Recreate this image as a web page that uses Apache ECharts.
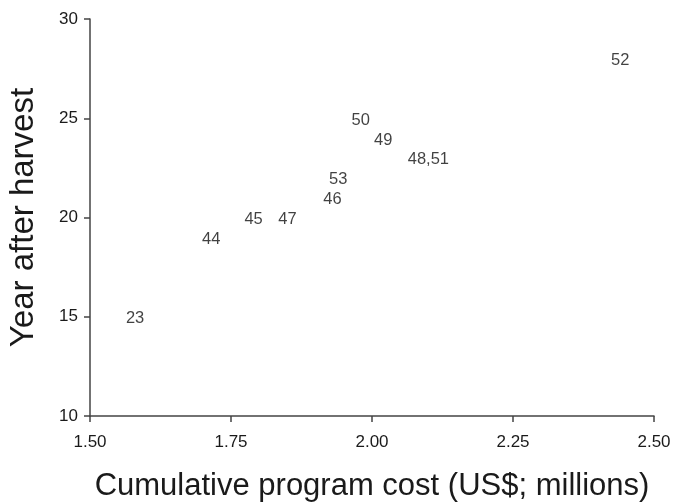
<!DOCTYPE html>
<html>
<head>
<meta charset="utf-8">
<script src="https://cdn.jsdelivr.net/npm/echarts@6/dist/echarts.min.js"></script>
<style>
  html, body { margin: 0; padding: 0; background: #fff; }
  #chart { width: 674px; height: 502px; }
</style>
</head>
<body>
<div id="chart"></div>
<script>
// Program identifiers shown as point labels
const pointLabels = ['23', '44', '45', '47', '46', '53', '50', '49', '48,51', '52'];
// Cumulative program cost (US$ millions)
const costMillions = [1.58, 1.715, 1.79, 1.85, 1.93, 1.94, 1.98, 2.02, 2.10, 2.44];
// Year after harvest
const yearAfterHarvest = [15, 19, 20, 20, 21, 22, 25, 24, 23, 28];

const xTicks = ['1.50', '1.75', '2.00', '2.25', '2.50'];

const chart = echarts.init(document.getElementById('chart'));
const points = costMillions.map((c, i) => [c, yearAfterHarvest[i], pointLabels[i]]);

const axisColor = '#444';
const textColor = '#1a1a1a';
const fontFamily = '"Liberation Sans", Arial, sans-serif';

chart.setOption({
  animation: false,
  grid: { left: 90, right: 20, top: 19, bottom: 86, containLabel: false, outerBoundsMode: 'none' },
  xAxis: {
    type: 'value',
    min: 1.5, max: 2.5, interval: 0.25,
    name: 'Cumulative program cost (US$; millions)',
    nameLocation: 'middle',
    nameGap: 55,
    nameTextStyle: { fontSize: 31, color: textColor, fontFamily },
    axisLine: { show: true, lineStyle: { color: axisColor, width: 1.5 } },
    axisTick: { show: true, inside: false, length: 6, lineStyle: { color: axisColor, width: 1.5 } },
    axisLabel: {
      margin: 18, fontSize: 17, color: textColor, fontFamily,
      formatter: v => xTicks[Math.round((v - 1.5) / 0.25)] || v.toFixed(2)
    },
    splitLine: { show: false }
  },
  yAxis: {
    type: 'value',
    min: 10, max: 30, interval: 5,
    name: 'Year after harvest',
    nameLocation: 'middle',
    nameGap: 50,
    nameRotate: 90,
    nameTextStyle: { fontSize: 33, color: textColor, fontFamily },
    axisLine: { show: true, lineStyle: { color: axisColor, width: 1.5 } },
    axisTick: { show: true, inside: false, length: 6, lineStyle: { color: axisColor, width: 1.5 } },
    axisLabel: { margin: 12, fontSize: 17, color: textColor, fontFamily },
    splitLine: { show: false }
  },
  series: [{
    type: 'scatter',
    data: points,
    symbolSize: 1,
    itemStyle: { color: 'rgba(0,0,0,0)' },
    label: {
      show: true,
      position: 'inside',
      offset: [0, 2],
      formatter: p => p.data[2],
      fontSize: 16.5,
      color: '#111',
      fontFamily
    }
  }]
});
</script>
</body>
</html>
